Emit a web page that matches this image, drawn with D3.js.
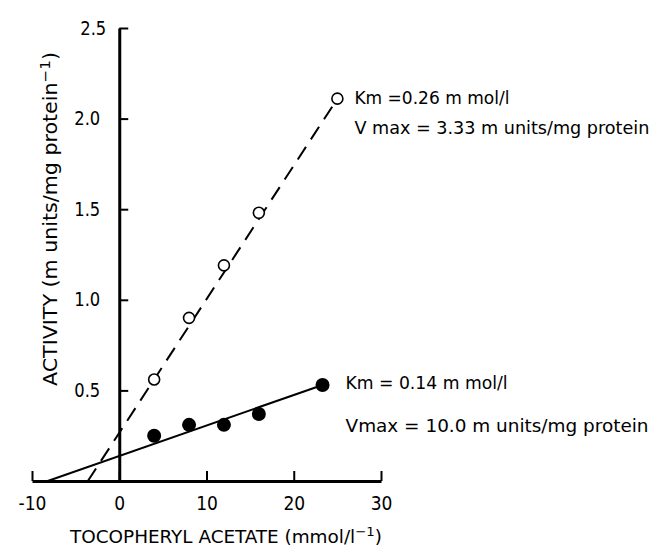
<!DOCTYPE html>
<html><head><meta charset="utf-8">
<script src="https://cdn.jsdelivr.net/npm/d3@7"></script>
<style>
body{margin:0;background:#fff;}
text{font-family:"DejaVu Sans Condensed","DejaVu Sans",sans-serif;fill:#000;}
</style></head>
<body><svg id="c" width="653" height="554"></svg>
<script>
const xTicks = [-10, 0, 10, 20, 30];
const yTicks = [0.5, 1.0, 1.5, 2.0, 2.5];
const yTickLabels = ["0.5", "1.0", "1.5", "2.0", "2.5"];
const openX = [4, 8, 12, 16, 25];
const openY = [0.56, 0.90, 1.19, 1.48, 2.11];
const filledX = [4, 8, 12, 16, 23.3];
const filledY = [0.25, 0.31, 0.31, 0.37, 0.53];
const dashedLine = [[-3.6, 0], [24.6, 2.08]];
const solidLine = [[-8.2, 0], [23.3, 0.53]];
const openNotes = ["Km =0.26 m mol/l", "V max = 3.33 m units/mg protein"];
const filledNotes = ["Km = 0.14 m mol/l", "Vmax = 10.0 m units/mg protein"];

const svg = d3.select("#c");
const x = d3.scaleLinear().domain([-10, 30]).range([32, 381]);
const y = d3.scaleLinear().domain([0, 2.5]).range([481, 28]);

function fit(sel, len) {
  sel.attr("textLength", len).attr("lengthAdjust", "spacingAndGlyphs");
}

// x axis
const xa = svg.append("g").attr("transform", `translate(0,${y(0)})`)
  .call(d3.axisBottom(x).tickValues(xTicks).tickSizeInner(-10).tickSizeOuter(0).tickPadding(16)
    .tickFormat(d => d < 0 ? "-" + Math.abs(d) : d));
xa.select(".domain").attr("stroke-width", 3);
xa.selectAll(".tick line").attr("stroke-width", 2);
xa.selectAll(".tick text").attr("font-size", 19).attr("font-family", null);

// y axis
const ya = svg.append("g").attr("transform", `translate(${x(0)},0)`)
  .call(d3.axisLeft(y).tickValues(yTicks).tickSizeInner(-9).tickSizeOuter(0).tickPadding(19)
    .tickFormat((d, i) => yTickLabels[i]));
ya.select(".domain").attr("stroke-width", 3);
ya.selectAll(".tick line").attr("stroke-width", 2);
ya.selectAll(".tick text").attr("font-size", 19).attr("font-family", null);
fit(ya.selectAll(".tick text"), 26);
ya.selectAll(".tick text").filter(d => d === 2.5).attr("dx", 6);

const line = d3.line().x(d => x(d[0])).y(d => y(d[1]));
svg.append("path").attr("d", line(dashedLine)).attr("fill", "none")
  .attr("stroke", "#000").attr("stroke-width", 2).attr("stroke-dasharray", "15,9");
svg.append("path").attr("d", line(solidLine)).attr("fill", "none")
  .attr("stroke", "#000").attr("stroke-width", 2);

svg.selectAll("circle.o").data(openX).join("circle").attr("class", "o")
  .attr("cx", d => x(d)).attr("cy", (d, i) => y(openY[i])).attr("r", 5.5)
  .attr("fill", "#fff").attr("stroke", "#000").attr("stroke-width", 1.6);
svg.selectAll("circle.f").data(filledX).join("circle").attr("class", "f")
  .attr("cx", d => x(d)).attr("cy", (d, i) => y(filledY[i])).attr("r", 7)
  .attr("fill", "#000");

// annotations
const oi = openX.length - 1, fi = filledX.length - 1;
const openLens = [155, 295], filledLens = [162, 303];
openNotes.forEach((t, i) => fit(svg.append("text").attr("x", x(openX[oi]) + 17)
  .attr("y", y(openY[oi]) + 5 + i * 30).attr("font-size", 18).text(t), openLens[i]));
filledNotes.forEach((t, i) => fit(svg.append("text").attr("x", x(filledX[fi]) + 23)
  .attr("y", y(filledY[fi]) + 4 + i * 43).attr("font-size", 18).text(t), filledLens[i]));

// axis titles
const xt = svg.append("text").attr("x", 226).attr("y", 543).attr("text-anchor", "middle").attr("font-size", 18);
xt.append("tspan").text("TOCOPHERYL ACETATE (mmol/l");
xt.append("tspan").attr("dy", -7).attr("font-size", 13).text("\u22121");
xt.append("tspan").attr("dy", 7).text(")");
fit(xt, 312);

const yt = svg.append("text").attr("transform", "translate(57,219) rotate(-90)")
  .attr("text-anchor", "middle").attr("font-size", 19);
yt.append("tspan").text("ACTIVITY  (m units/mg protein");
yt.append("tspan").attr("dy", -7).attr("font-size", 14).text("\u22121");
yt.append("tspan").attr("dy", 7).text(")");
fit(yt, 334);
</script></body></html>
